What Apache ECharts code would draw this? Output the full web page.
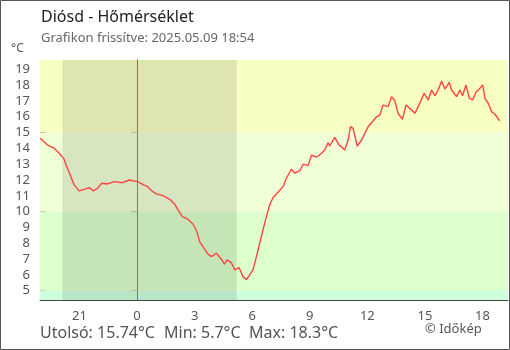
<!DOCTYPE html>
<html>
<head>
<meta charset="utf-8">
<script src="https://cdn.jsdelivr.net/npm/echarts@6/dist/echarts.min.js"></script>
<style>
  html, body { margin: 0; padding: 0; background: #fff; }
  #chart { width: 510px; height: 350px; }
</style>
</head>
<body>
<div id="chart"></div>
<script>
// hours relative to midnight (negative = previous evening)
const hours = [-5.05, -4.67, -4.32, -4.06, -3.83, -3.63, -3.45, -3.28, -3.02, -2.75,
  -2.49, -2.27, -2.06, -1.85, -1.54, -1.19, -0.76, -0.41, 0.03, 0.34,
  0.55, 0.82, 1.0, 1.35, 1.7, 1.96, 2.13, 2.36, 2.65, 2.91,
  3.12, 3.26, 3.43, 3.69, 3.87, 4.13, 4.39, 4.56, 4.68, 4.91,
  5.09, 5.31, 5.52, 5.7, 5.87, 6.04, 6.22, 6.39, 6.56, 6.74,
  6.91, 7.08, 7.34, 7.61, 7.78, 8.04, 8.22, 8.48, 8.65, 8.91,
  9.09, 9.35, 9.61, 9.78, 9.95, 10.04, 10.3, 10.53, 10.65, 10.82,
  11.0, 11.12, 11.26, 11.47, 11.7, 11.87, 12.04, 12.22, 12.48, 12.65,
  12.82, 13.08, 13.26, 13.43, 13.6, 13.83, 14.01, 14.21, 14.48, 14.65,
  14.96, 15.17, 15.35, 15.52, 15.69, 15.87, 16.04, 16.27, 16.39, 16.65,
  16.82, 16.96, 17.14, 17.31, 17.49, 17.66, 17.83, 18.01, 18.13, 18.3,
  18.48, 18.65, 18.9];
const temps = [14.64, 14.21, 14.01, 13.69, 13.37, 12.74, 12.21, 11.69, 11.31, 11.41,
  11.52, 11.31, 11.48, 11.79, 11.75, 11.9, 11.83, 12.0, 11.9, 11.69,
  11.58, 11.26, 11.12, 11.01, 10.78, 10.47, 10.11, 9.68, 9.52, 9.22,
  8.73, 8.1, 7.79, 7.31, 7.15, 7.37, 6.99, 6.67, 6.95, 6.78,
  6.31, 6.46, 5.89, 5.7, 6.0, 6.31, 7.15, 8.0, 8.84, 9.68,
  10.42, 10.88, 11.22, 11.58, 12.11, 12.68, 12.43, 12.59, 13.0, 12.91,
  13.58, 13.44, 13.69, 13.9, 14.36, 14.15, 14.7, 14.21, 14.11, 13.9,
  14.53, 15.37, 15.27, 14.15, 14.53, 14.95, 15.37, 15.62, 16.0, 16.11,
  16.74, 16.64, 17.27, 17.02, 16.22, 15.84, 16.74, 16.53, 16.22, 16.64,
  17.48, 17.06, 17.69, 17.33, 17.69, 18.26, 17.75, 18.18, 17.69, 17.27,
  17.69, 17.33, 18.01, 17.2, 17.06, 17.55, 17.75, 18.01, 17.17, 16.85,
  16.32, 16.16, 15.74];

const xTicks = [-3, 0, 3, 6, 9, 12, 15, 18];
const yTicks = [5, 6, 7, 8, 9, 10, 11, 12, 13, 14, 15, 16, 17, 18, 19];

const bands = [
  { from: 4.41, to: 5, color: '#ccffdc' },
  { from: 5, to: 10, color: '#dcffcc' },
  { from: 10, to: 15, color: '#f0ffd6' },
  { from: 15, to: 19.59, color: '#f8ffc2' }
];
const night = [-3.89, 5.19];

const chart = echarts.init(document.getElementById('chart'));
const font = 'Noto Sans';
const points = hours.map((h, i) => [h, temps[i]]);

chart.setOption({
  animation: false,
  textStyle: { fontFamily: font },
  grid: { left: 40, right: 2, top: 60, bottom: 50 },
  xAxis: {
    type: 'value',
    min: -5.06,
    max: 19.33,
    splitLine: { show: false },
    axisLine: { lineStyle: { color: '#444' } },
    axisTick: { show: true, inside: true, length: 6, customValues: xTicks, lineStyle: { color: '#444' } },
    axisLabel: {
      customValues: xTicks,
      color: '#555',
      fontSize: 13,
      margin: 10,
      formatter: v => String((v + 24) % 24)
    }
  },
  yAxis: [{
    type: 'value',
    min: 4.41,
    max: 19.59,
    splitLine: { show: false },
    axisLine: { show: true, lineStyle: { color: '#444' } },
    axisTick: { show: true, length: 6, customValues: yTicks, lineStyle: { color: '#444' } },
    axisLabel: { customValues: yTicks, color: '#555', fontSize: 13, margin: 10 }
  }, {
    type: 'value',
    position: 'left',
    min: 4.41,
    max: 19.59,
    splitLine: { show: false },
    axisLine: { show: false },
    axisTick: { show: true, inside: true, length: 6, customValues: yTicks, lineStyle: { color: '#444' } },
    axisLabel: { show: false }
  }],
  series: [{
    type: 'line',
    data: points,
    z: 1,
    symbol: 'none',
    silent: true,
    lineStyle: { opacity: 0 },
    markArea: {
      silent: true,
      data: bands.map(b => [
        { yAxis: b.from, itemStyle: { color: b.color } },
        { yAxis: b.to }
      ]).concat([[
        { xAxis: night[0], itemStyle: { color: 'rgba(0,0,0,0.1)' } },
        { xAxis: night[1] }
      ]])
    },
    markLine: {
      silent: true,
      symbol: 'none',
      label: { show: false },
      lineStyle: { color: '#3a8bc0', width: 1, type: 'solid' },
      data: [{ xAxis: 0 }]
    }
  }, {
    type: 'line',
    data: points,
    z: 3,
    symbol: 'none',
    lineStyle: { color: '#ff4444', width: 1.4 }
  }],
  graphic: [
    { type: 'rect', shape: { x: 0.5, y: 0.5, width: 509, height: 349 }, style: { fill: 'none', stroke: '#555', lineWidth: 1 }, silent: true },
    { type: 'text', left: 41, top: 9, style: { text: 'Diósd - Hőmérséklet', font: '16px "Noto Sans"', fill: '#222' } },
    { type: 'text', left: 41, top: 32, style: { text: 'Grafikon frissítve: 2025.05.09 18:54', font: '13px "Noto Sans"', fill: '#666' } },
    { type: 'text', left: 11, top: 43, style: { text: '°C', font: '12px "Noto Sans"', fill: '#555' } },
    { type: 'text', left: 40, top: 325, style: { text: 'Utolsó: 15.74°C', font: '16px "Noto Sans"', fill: '#555' } },
    { type: 'text', left: 164, top: 325, style: { text: 'Min: 5.7°C', font: '16px "Noto Sans"', fill: '#555' } },
    { type: 'text', left: 249, top: 325, style: { text: 'Max: 18.3°C', font: '16px "Noto Sans"', fill: '#555' } },
    { type: 'text', left: 425, top: 323, style: { text: '© Időkép', font: '13px "Noto Sans"', fill: '#555' } }
  ]
});
</script>
</body>
</html>
